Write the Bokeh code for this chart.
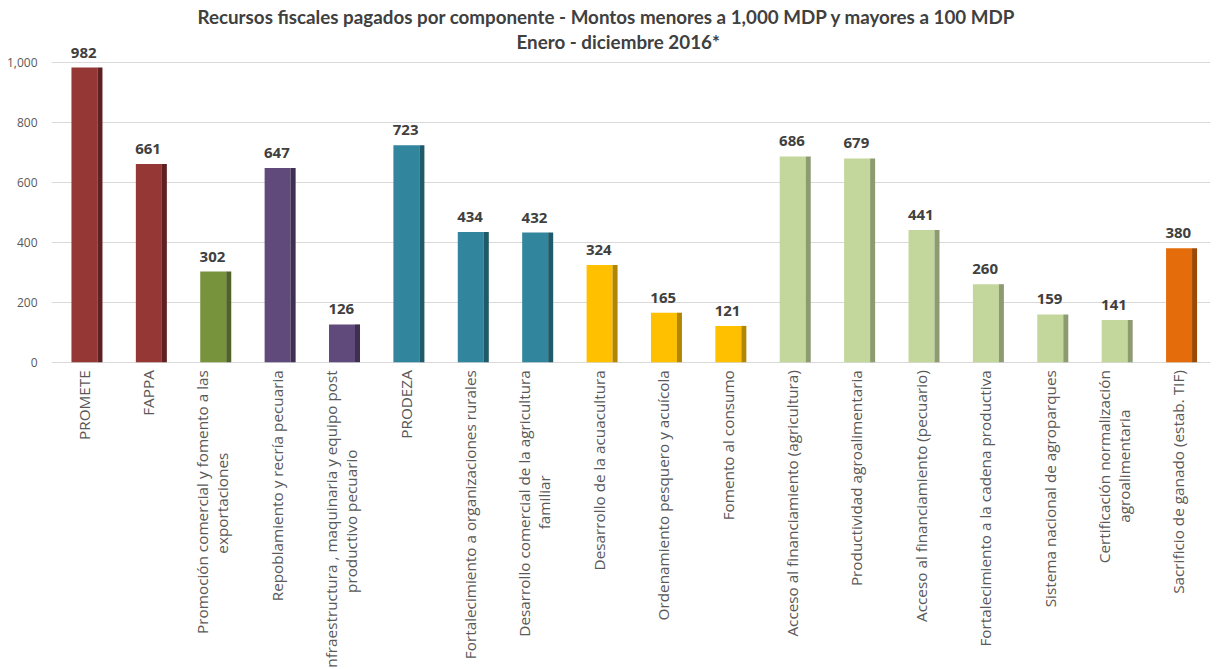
import math
from bokeh.plotting import figure
from bokeh.models import ColumnDataSource, FactorRange, Range1d, FixedTicker, NumeralTickFormatter, Title
from bokeh.transform import dodge
from bokeh.core.properties import value
from bokeh.embed import file_html
from bokeh.resources import INLINE

categories = [
    "PROMETE",
    "FAPPA",
    "Promoción comercial y fomento a las\nexportaciones",
    "Repoblamiento y recría pecuaria",
    "Infraestructura , maquinaria y equipo post\nproductivo pecuario",
    "PRODEZA",
    "Fortalecimiento a organizaciones rurales",
    "Desarrollo comercial de la agricultura\nfamiliar",
    "Desarrollo de la acuacultura",
    "Ordenamiento pesquero y acuícola",
    "Fomento al consumo",
    "Acceso al financiamiento (agricultura)",
    "Productividad agroalimentaria",
    "Acceso al financiamiento (pecuario)",
    "Fortalecimiento a la cadena productiva",
    "Sistema nacional de agroparques",
    "Certificación normalización\nagroalimentaria",
    "Sacrificio de ganado (estab. TIF)",
]
values = [982, 661, 302, 647, 126, 723, 434, 432, 324, 165, 121, 686, 679, 441, 260, 159, 141, 380]
groups = ["rojo", "rojo", "olivo", "morado", "morado", "azul", "azul", "azul",
          "amarillo", "amarillo", "amarillo", "verde", "verde", "verde", "verde",
          "verde", "verde", "naranja"]
y_ticks = [0, 200, 400, 600, 800, 1000]

front_colors = {"rojo": "#953735", "olivo": "#77933C", "morado": "#604A7B", "azul": "#31859C",
                "amarillo": "#FFC000", "verde": "#C3D69B", "naranja": "#E46C0A"}
side_colors = {"rojo": "#5E2020", "olivo": "#4F6228", "morado": "#3F3052", "azul": "#1F5A6A",
               "amarillo": "#B38600", "verde": "#8C9C70", "naranja": "#9A4907"}

# approximate pixel length of the first line of the wrapped category labels
# (used only to centre the second line under the first one)
first_line_px = {2: 266, 4: 302, 7: 264, 16: 192}
LABEL_GAP = 8      # px between the zero line and the top of the rotated labels
HALF_LEAD = 10     # px, half the distance between the two lines of a wrapped label

source = ColumnDataSource(data=dict(
    cat=categories,
    val=values,
    lbl=[f"{v:,}" for v in values],
    front=[front_colors[g] for g in groups],
    side=[side_colors[g] for g in groups],
))

# tick-label lines
l1_cat, l1_txt, l1_dx = [], [], []
l2_cat, l2_txt, l2_dy = [], [], []
for i, c in enumerate(categories):
    parts = c.split("\n")
    l1_cat.append(c)
    l1_txt.append(parts[0])
    if len(parts) > 1:
        l1_dx.append(-HALF_LEAD)
        l2_cat.append(c)
        l2_txt.append(parts[1])
        l2_dy.append(LABEL_GAP + first_line_px.get(i, 200) / 2)
    else:
        l1_dx.append(0)
src_l1 = ColumnDataSource(data=dict(cat=l1_cat, y=[0] * len(l1_cat), txt=l1_txt, dx=l1_dx))
src_l2 = ColumnDataSource(data=dict(cat=l2_cat, y=[0] * len(l2_cat), txt=l2_txt, dy=l2_dy))

p = figure(
    width=1217, height=669,
    x_range=FactorRange(factors=categories, range_padding=0),
    y_range=Range1d(-1024.3, 1032.3),
    output_backend="svg", toolbar_location=None,
    min_border_left=51, min_border_right=7, min_border_top=52, min_border_bottom=0,
)
p.title = None
p.add_layout(Title(text="Enero - diciembre 2016*", align="left", text_font="Lato",
                   text_font_size="18.8px", text_font_style="bold", text_color="#404040",
                   standoff=0, offset=465), "above")
p.add_layout(Title(text="Recursos fiscales pagados por componente - Montos menores a 1,000 MDP y mayores a 100 MDP",
                   align="left", text_font="Lato", text_font_size="18.8px", text_font_style="bold",
                   text_color="#404040", standoff=0, offset=146), "above")

p.vbar(x=dodge("cat", 0.012, range=p.x_range), top="val", bottom=0, width=0.404,
       fill_color="front", line_color=None, source=source)
p.vbar(x=dodge("cat", 0.2525, range=p.x_range), top="val", bottom=0, width=0.078,
       fill_color="side", line_color=None, source=source)

t = p.text(x="cat", y="val", text="lbl", source=source, text_align="center",
           text_baseline="alphabetic", y_offset=-15, text_font_size="15px",
           text_font_style="bold", text_color="#404040", text_font=value("Open Sans"))
t.level = "overlay"

lab_kw = dict(angle=math.pi / 2, text_font=value("Open Sans"), text_font_size="15.3px",
              text_color="#595959", text_baseline="middle")
r1 = p.text(x="cat", y="y", text="txt", source=src_l1, text_align="right",
            x_offset="dx", y_offset=LABEL_GAP, **lab_kw)
r2 = p.text(x="cat", y="y", text="txt", source=src_l2, text_align="center",
            x_offset=HALF_LEAD, y_offset="dy", **lab_kw)
r1.level = "overlay"
r2.level = "overlay"

p.outline_line_color = None
p.background_fill_color = "white"
p.border_fill_color = "white"
p.xgrid.grid_line_color = None
p.ygrid.grid_line_color = "#D9D9D9"
p.ygrid.ticker = FixedTicker(ticks=y_ticks)

p.yaxis.ticker = FixedTicker(ticks=y_ticks)
p.yaxis.formatter = NumeralTickFormatter(format="0,0")
p.yaxis.axis_line_color = None
p.yaxis.major_tick_line_color = None
p.yaxis.minor_tick_line_color = None
p.yaxis.major_label_text_font = "Open Sans"
p.yaxis.major_label_text_font_size = "12px"
p.yaxis.major_label_text_color = "#595959"
p.yaxis.major_label_standoff = 8

p.xaxis.visible = False

open("out.html", "w").write(file_html(p, INLINE))
